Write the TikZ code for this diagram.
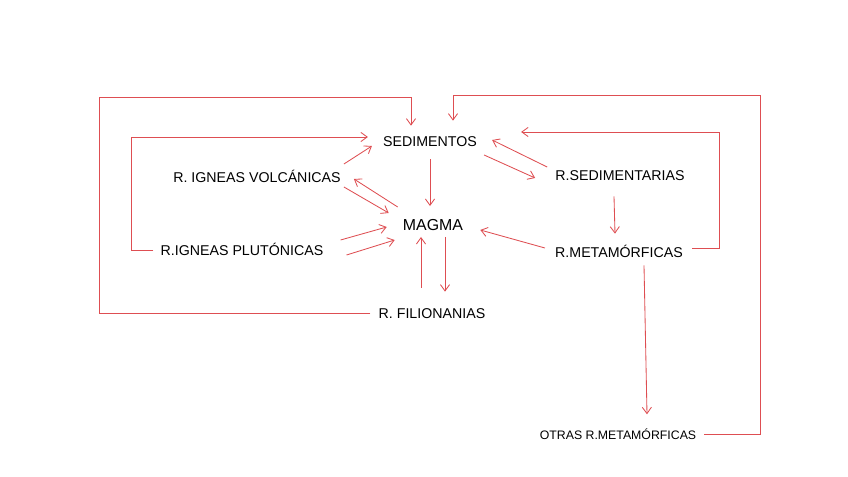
\documentclass[tikz,border=0pt]{standalone}
\usepackage{fontspec}
\setmainfont{Liberation Sans}
\usetikzlibrary{calc,arrows.meta}

\definecolor{cyclered}{RGB}{222,78,82}

\begin{document}
\begin{tikzpicture}[x=0.025cm,y=-0.025cm,
  rock/.style={inner sep=0pt,anchor=center,text height=7.2pt,text depth=0pt,font=\fontsize{10.1}{12}\selectfont},
  core/.style={inner sep=0pt,anchor=center,text height=8.1pt,text depth=0pt,font=\fontsize{11.3}{13}\selectfont},
  small/.style={inner sep=0pt,anchor=center,text height=6.3pt,text depth=0pt,font=\fontsize{8.75}{10}\selectfont},
  flow/.style={draw=cyclered,line width=0.6pt,-{Straight Barb[length=4.5pt,width=6.5pt]}},
  loop/.style={draw=cyclered,line width=0.6pt,-{Straight Barb[length=4.5pt,width=6.5pt]}}]

% ----- Canvas -----
\useasboundingbox (0,0) rectangle (848,477);

% ----- Rocks -----
\node[rock]  (sed)   at (430,141) {SEDIMENTOS};
\node[rock]  (volc)  at (257,177) {R. IGNEAS VOLCÁNICAS};
\node[core]  (magma) at (433,225) {MAGMA};
\node[rock]  (pluto) at (242,250) {R.IGNEAS PLUTÓNICAS};
\node[rock]  (filon) at (432,313) {R. FILIONANIAS};
\node[rock]  (sedim) at (620,175) {R.SEDIMENTARIAS};
\node[rock]  (meta)  at (619,252) {R.METAMÓRFICAS};
\node[small] (otras) at (618,435) {OTRAS R.METAMÓRFICAS};

% ----- Loop corners -----
\coordinate (outL) at (99,97);
\coordinate (inL)  at (131,137);
\coordinate (outR) at (760,95);
\coordinate (inR)  at (719,132);

% ----- Long loops back to sediments -----
\draw[loop] ($(filon.west)+(-8,0)$) -| (outL) -| ($(sed.north)+(-19,-10)$);
\draw[loop] ($(pluto.west)+(-7,0)$) -| (inL) -- ($(sed.west)+(-15,-4)$);
\draw[loop] ($(otras.east)+(8,-1)$) -| (outR) -| ($(sed.north)+(23,-15)$);
\draw[loop] ($(meta.east)+(9,-4)$) -| (inR) -- ($(sed.east)+(44,-9)$);

% ----- Igneous side -----
\draw[flow] ($(volc.east)+(3,-13)$) -- ($(sed.west)+(-11,5)$);
\draw[flow] ($(volc.east)+(3,10)$) -- ($(magma.west)+(-14,-12)$);
\draw[flow] ($(magma.west)+(-5,-18)$) -- ($(volc.east)+(13,2)$);
\draw[flow] ($(pluto.east)+(17,-10)$) -- ($(magma.west)+(-16,2)$);
\draw[flow] ($(pluto.east)+(23,5)$) -- ($(magma.west)+(-8,15)$);

% ----- Centre column -----
\draw[flow] ($(sed.south)+(0,13)$) -- ($(magma.north)+(-3,-13)$);
\draw[flow] ($(filon.north)+(-11,-20)$) -- ($(magma.south)+(-12,6)$);
\draw[flow] ($(magma.south)+(12,6)$) -- ($(filon.north)+(13,-16)$);

% ----- Sedimentary / metamorphic side -----
\draw[flow] ($(sedim.west)+(-8,-8)$) -- ($(sed.east)+(15,-1)$);
\draw[flow] ($(sed.east)+(7,14)$) -- ($(sedim.west)+(-20,3)$);
\draw[flow] ($(sedim.south)+(-6,16)$) -- ($(meta.north)+(-4,-13)$);
\draw[flow] ($(meta.west)+(-10,-4)$) -- ($(magma.east)+(17,5)$);
\draw[flow] ($(meta.south)+(25,8)$) -- ($(otras.north)+(29,-16)$);

\end{tikzpicture}
\end{document}
